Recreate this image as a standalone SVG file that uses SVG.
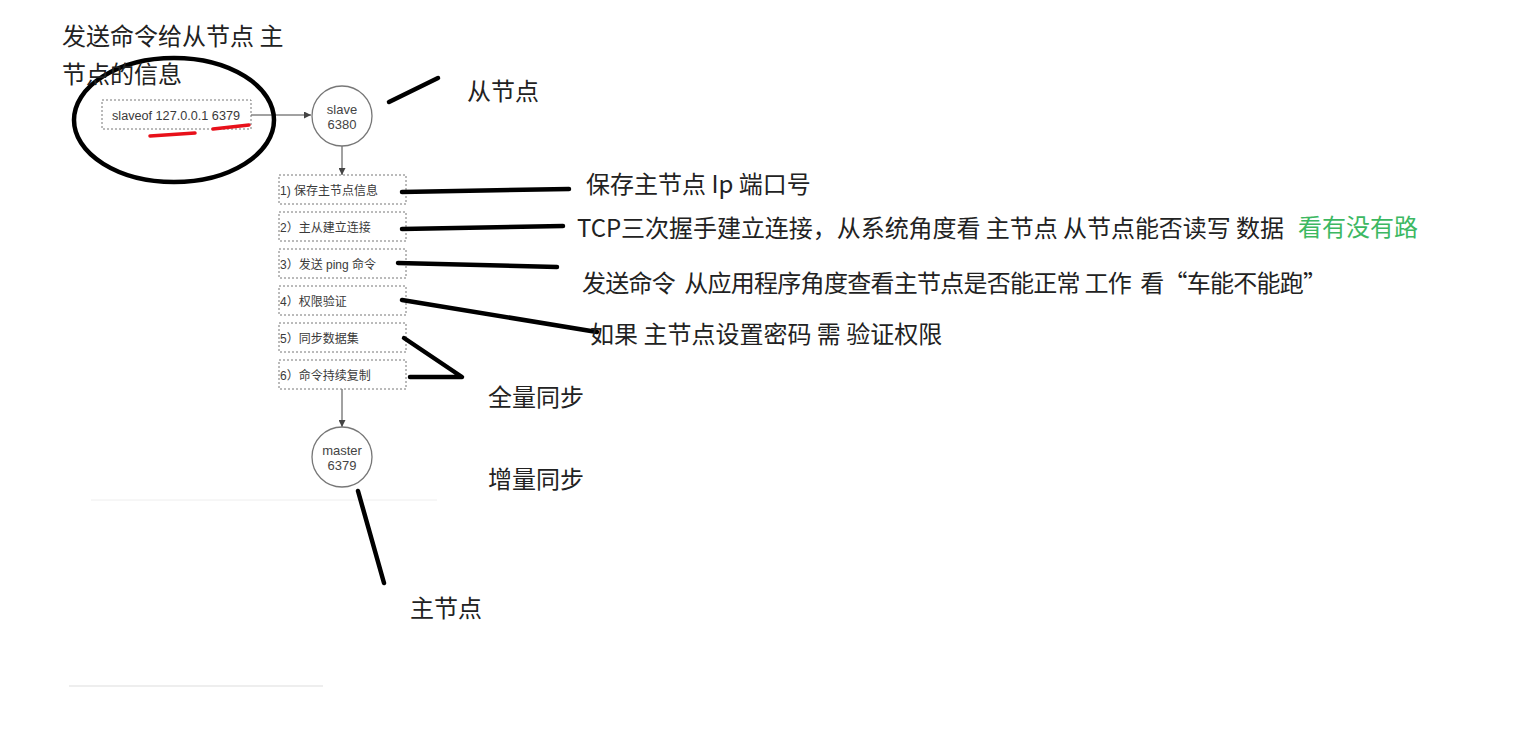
<svg xmlns="http://www.w3.org/2000/svg" width="1518" height="733" viewBox="0 0 1518 733">
<style>
.note{font-family:"Noto Sans CJK SC","Noto Sans",sans-serif;font-size:24px;fill:#222}
.nt{font-family:"Liberation Sans","Noto Sans CJK SC",sans-serif;font-size:12px;fill:#3a3a3a}
.ct{font-family:"Liberation Sans","Noto Sans CJK SC",sans-serif;font-size:13px;fill:#444;text-anchor:middle}
.box{fill:#fff;stroke:#777;stroke-width:1;stroke-dasharray:2 2}
.circ{fill:#fff;stroke:#777;stroke-width:1.3}
.conn{stroke:#444;stroke-width:1;fill:none}
.ink{stroke:#000;stroke-width:4.5;stroke-linecap:round;stroke-linejoin:round;fill:none}
.red{stroke:#e8101a;stroke-width:3.5;stroke-linecap:round;fill:none}
</style>
<defs>
<marker id="ah" viewBox="0 0 10 10" refX="10" refY="5" markerWidth="7" markerHeight="7" orient="auto" markerUnits="userSpaceOnUse">
<path d="M0,0 L10,5 L0,10 z" fill="#444"/>
</marker>
</defs>
<rect width="1518" height="733" fill="#fff"/>
<line x1="91" y1="500" x2="437" y2="500" stroke="#eee" stroke-width="1"/>
<line x1="69" y1="686" x2="323" y2="686" stroke="#eee" stroke-width="2"/>

<g id="connectors">
<line class="conn" x1="251" y1="115" x2="311" y2="115" marker-end="url(#ah)"/>
<line class="conn" x1="342" y1="146" x2="342" y2="175" marker-end="url(#ah)"/>
<line class="conn" x1="342" y1="389" x2="342" y2="427" marker-end="url(#ah)"/>
</g>

<g id="cmd">
<rect class="box" x="102" y="100" width="149" height="29"/>
<text class="nt" x="112" y="120" font-size="13" textLength="128" lengthAdjust="spacingAndGlyphs">slaveof 127.0.0.1 6379</text>
</g>
<g id="slave">
<circle class="circ" cx="342" cy="116" r="30"/>
<text class="ct" x="342" y="114">slave</text>
<text class="ct" x="342" y="129" font-size="14">6380</text>
</g>
<g id="step1"><rect class="box" x="279" y="175" width="127" height="29"/><text class="nt" x="280" y="195">1) 保存主节点信息</text></g>
<g id="step2"><rect class="box" x="279" y="212" width="127" height="29"/><text class="nt" x="280" y="232">2）主从建立连接</text></g>
<g id="step3"><rect class="box" x="279" y="249" width="127" height="29"/><text class="nt" x="280" y="269">3）发送 ping 命令</text></g>
<g id="step4"><rect class="box" x="279" y="286" width="127" height="29"/><text class="nt" x="280" y="306">4）权限验证</text></g>
<g id="step5"><rect class="box" x="279" y="323" width="127" height="29"/><text class="nt" x="280" y="343">5）同步数据集</text></g>
<g id="step6"><rect class="box" x="279" y="360" width="127" height="29"/><text class="nt" x="280" y="380">6）命令持续复制</text></g>
<g id="master">
<circle class="circ" cx="342" cy="457" r="30"/>
<text class="ct" x="342" y="455">master</text>
<text class="ct" x="342" y="470" font-size="14">6379</text>
</g>

<g id="annotations">
<ellipse class="ink" cx="174" cy="120" rx="100" ry="62" stroke-width="4"/>
<path class="red" d="M150,136 L195,133"/>
<path class="red" d="M213,129 L249,125"/>
<path class="ink" d="M389,102 L438,78"/>
<path class="ink" d="M402,192 L569,189"/>
<path class="ink" d="M402,229 L563,226"/>
<path class="ink" d="M398,263 L557,267"/>
<path class="ink" d="M402,300 L597,332"/>
<path class="ink" d="M404,338 L462,377 L410,377"/>
<path class="ink" d="M358,491 L384,583" stroke-width="5"/>
</g>

<g id="texts">
<text class="note" x="62" y="45">发送命令给从节点 主</text>
<text class="note" x="62" y="83">节点的信息</text>
<text class="note" x="467" y="100">从节点</text>
<text class="note" x="586" y="193">保存主节点 Ip 端口号</text>
<text class="note" x="577" y="237" textLength="707" lengthAdjust="spacing">TCP三次握手建立连接，从系统角度看 主节点 从节点能否读写 数据</text>
<text class="note" x="1298" y="236" style="fill:#3cb862">看有没有路</text>
<text class="note" x="582" y="292" xml:space="preserve" textLength="745" lengthAdjust="spacing">发送命令  从应用程序角度查看主节点是否能正常 工作  看“车能不能跑”</text>
<text class="note" x="590" y="343">如果 主节点设置密码 需 验证权限</text>
<text class="note" x="488" y="406">全量同步</text>
<text class="note" x="488" y="488">增量同步</text>
<text class="note" x="410" y="617">主节点</text>
</g>
</svg>
